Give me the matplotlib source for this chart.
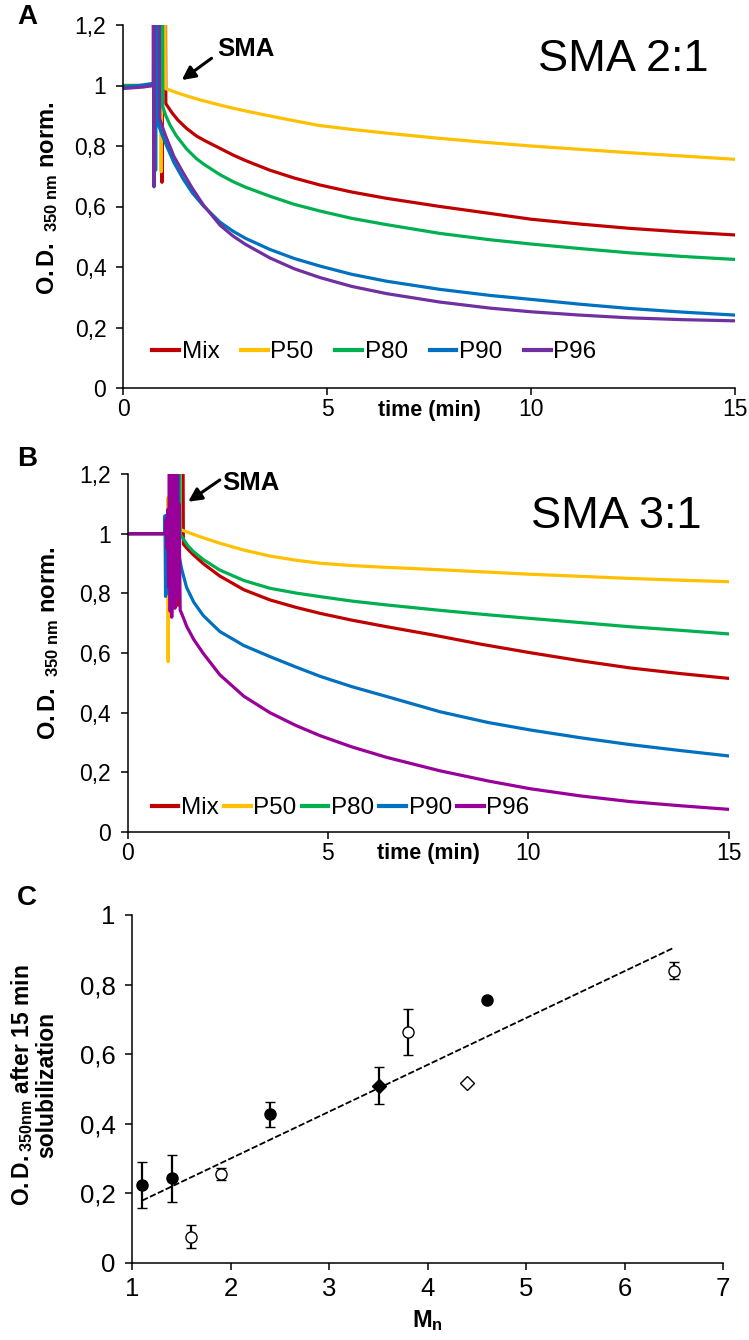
import numpy as np
import matplotlib
matplotlib.use('Agg')
import matplotlib.pyplot as plt

plt.rcParams['font.family'] = ['Liberation Sans', 'DejaVu Sans']
plt.rcParams['mathtext.fontset'] = 'custom'
plt.rcParams['mathtext.rm'] = 'Liberation Sans'
plt.rcParams['mathtext.bf'] = 'Liberation Sans:bold'
plt.rcParams['mathtext.it'] = 'Liberation Sans:italic'

# ---------------- data ----------------
series_names = ['Mix', 'P50', 'P80', 'P90', 'P96']

# Panel A (SMA 2:1)
a_mix_t = [0, 0.5, 0.93, 0.94, 0.955, 0.965, 1.04, 1.05, 1.2, 1.35, 1.56, 1.8, 2.0, 2.38, 2.7, 3.0, 3.6, 4.2, 4.83,
           5.6, 6.46, 7.77, 9.0, 10.0, 11.2, 12.4, 13.7, 15.0]
a_mix_y = [1.0, 1.0, 1.0, 1.3, 0.68, 1.3, 1.3, 0.94, 0.91, 0.885, 0.858, 0.833, 0.818, 0.792, 0.77, 0.752, 0.72, 0.694,
           0.671, 0.648, 0.627, 0.60, 0.577, 0.558, 0.542, 0.528, 0.516, 0.506]
a_p50_t = [0, 0.5, 0.92, 0.925, 0.935, 0.96, 1.03, 1.04, 1.3, 1.6, 1.9, 2.3, 2.6, 3.0, 3.5, 4.1, 4.8, 5.6, 6.5, 7.7,
           8.8, 10.0, 11.2, 12.4, 13.7, 15.0]
a_p50_y = [1.0, 1.0, 1.0, 1.3, 0.715, 1.3, 1.3, 0.99, 0.977, 0.964, 0.952, 0.938, 0.928, 0.916, 0.902, 0.886, 0.868,
           0.855, 0.842, 0.826, 0.813, 0.80, 0.789, 0.778, 0.767, 0.756]
a_p80_t = [0, 0.5, 0.88, 0.89, 0.97, 0.975, 1.05, 1.15, 1.3, 1.56, 1.8, 2.0, 2.38, 2.7, 3.0, 3.6, 4.2, 4.83, 5.6, 6.46,
           7.77, 9.0, 10.0, 11.2, 12.4, 13.7, 15.0]
a_p80_y = [1.0, 1.0, 1.0, 1.3, 1.3, 0.93, 0.90, 0.87, 0.835, 0.79, 0.758, 0.738, 0.705, 0.682, 0.664, 0.634, 0.607,
           0.585, 0.561, 0.54, 0.511, 0.49, 0.476, 0.461, 0.447, 0.435, 0.425]
a_p90_t = [0, 0.4, 0.78, 0.785, 0.80, 0.815, 0.86, 0.87, 0.95, 1.07, 1.25, 1.48, 1.7, 1.97, 2.38, 2.7, 3.0, 3.6, 4.2,
           4.83, 5.6, 6.46, 7.77, 9.0, 10.0, 11.2, 12.4, 13.7, 15.0]
a_p90_y = [0.995, 1.0, 1.008, 1.3, 0.72, 1.3, 1.3, 0.87, 0.84, 0.80, 0.745, 0.69, 0.645, 0.602, 0.548, 0.518, 0.495,
           0.458, 0.428, 0.403, 0.376, 0.353, 0.326, 0.306, 0.293, 0.277, 0.263, 0.251, 0.241]
a_p96_t = [0, 0.5, 0.74, 0.745, 0.76, 0.775, 0.89, 0.9, 1.0, 1.07, 1.25, 1.48, 1.7, 1.97, 2.38, 2.7, 3.0, 3.6, 4.2,
           4.83, 5.6, 6.46, 7.77, 9.0, 10.0, 11.2, 12.4, 13.7, 15.0]
a_p96_y = [0.99, 0.995, 1.0, 1.3, 0.665, 1.3, 1.3, 0.89, 0.85, 0.825, 0.765, 0.71, 0.66, 0.605, 0.538, 0.502, 0.475,
           0.43, 0.394, 0.365, 0.336, 0.312, 0.284, 0.264, 0.252, 0.241, 0.232, 0.226, 0.222]

# Panel B (SMA 3:1)
b_mix_t = [0, 1.18, 1.19, 1.2, 1.25, 1.30, 1.38, 1.39, 1.5, 1.64, 1.9, 2.3, 2.9, 3.55, 4.2, 4.8, 5.6, 6.47, 7.6, 8.8,
           10.05, 11.3, 12.54, 13.8, 15.0]
b_mix_y = [1.0, 1.0, 0.755, 1.0, 0.76, 1.3, 1.3, 0.965, 0.948, 0.929, 0.898, 0.858, 0.812, 0.778, 0.753, 0.733, 0.71,
           0.688, 0.661, 0.63, 0.601, 0.574, 0.55, 0.531, 0.515]
b_p50_t = [0, 1.0, 1.005, 1.01, 1.02, 1.04, 1.06, 1.30, 1.32, 1.35, 1.8, 2.3, 2.9, 3.55, 4.2, 4.8, 5.6, 6.47, 7.8, 9.0,
           10.05, 11.3, 12.54, 13.8, 15.0]
b_p50_y = [1.0, 1.0, 1.12, 0.571, 1.12, 1.0, 1.3, 1.3, 1.01, 1.012, 0.99, 0.968, 0.945, 0.925, 0.911, 0.901, 0.893,
           0.887, 0.879, 0.871, 0.864, 0.857, 0.85, 0.844, 0.839]
b_p80_t = [0, 1.15, 1.16, 1.30, 1.31, 1.35, 1.5, 1.64, 1.9, 2.3, 2.9, 3.55, 4.2, 4.8, 5.6, 6.47, 7.8, 9.0, 10.05, 11.3,
           12.54, 13.8, 15.0]
b_p80_y = [1.0, 1.0, 1.3, 1.3, 1.0, 0.99, 0.96, 0.94, 0.912, 0.878, 0.843, 0.817, 0.801, 0.789, 0.774, 0.761, 0.743,
           0.728, 0.716, 0.702, 0.688, 0.676, 0.664]
b_p90_t = [0, 0.92, 0.93, 0.945, 0.96, 0.975, 0.99, 1.05, 1.06, 1.10, 1.12, 1.20, 1.21, 1.26, 1.27, 1.29, 1.35, 1.47,
           1.65, 1.89, 2.3, 2.9, 3.55, 4.2, 4.8, 5.6, 6.47, 7.8, 9.0, 10.05, 11.3, 12.54, 13.8, 15.0]
b_p90_y = [1.0, 1.0, 1.06, 0.79, 1.06, 0.80, 1.0, 1.0, 1.09, 0.85, 1.0, 1.0, 1.3, 1.3, 1.0, 0.92, 0.88, 0.82, 0.77,
           0.725, 0.672, 0.625, 0.588, 0.553, 0.522, 0.487, 0.454, 0.403, 0.367, 0.342, 0.316, 0.293, 0.273, 0.255]
b_p96_t = [0, 0.95, 0.96, 0.98, 1.0, 1.02, 1.04, 1.06, 1.08, 1.10, 1.12, 1.14, 1.16, 1.18, 1.20, 1.22, 1.24, 1.26, 1.28,
           1.31, 1.4, 1.47, 1.65, 1.89, 2.3, 2.9, 3.55, 4.2, 4.8, 5.6, 6.47, 7.8, 9.0, 10.05, 11.3, 12.54, 13.8, 15.0]
b_p96_y = [1.0, 1.0, 1.05, 0.95, 1.08, 0.82, 1.3, 0.74, 1.3, 0.72, 1.3, 0.8, 1.3, 0.75, 1.3, 0.78, 1.3, 0.85, 1.1,
           0.744, 0.715, 0.69, 0.645, 0.598, 0.527, 0.455, 0.40, 0.357, 0.323, 0.285, 0.25, 0.205, 0.171, 0.145, 0.121,
           0.102, 0.088, 0.076]

colors_a = ['#C00000', '#FFC000', '#00B050', '#0070C0', '#7030A0']
colors_b = ['#C00000', '#FFC000', '#00B050', '#0070C0', '#990099']

time_ticks = [0, 5, 10, 15]
time_tick_labels = ['0', '5', '10', '15']
od_ticks = [0, 0.2, 0.4, 0.6, 0.8, 1.0, 1.2]
od_tick_labels = ['0', '0,2', '0,4', '0,6', '0,8', '1', '1,2']

# Panel C
mn_values = [1.1, 1.4, 1.6, 1.9, 2.4, 3.5, 3.8, 4.4, 4.6, 6.5]
od15_values = [0.224, 0.243, 0.076, 0.255, 0.427, 0.509, 0.664, 0.518, 0.757, 0.840]
od15_errors = [0.065, 0.068, 0.032, 0.017, 0.036, 0.053, 0.066, 0.0, 0.0, 0.024]
point_filled = [True, True, False, False, True, True, False, False, True, False]
point_shape = ['o', 'o', 'o', 'o', 'o', 'D', 'o', 'D', 'o', 'o']
c_y_ticks = [0, 0.2, 0.4, 0.6, 0.8, 1.0]
c_y_tick_labels = ['0', '0,2', '0,4', '0,6', '0,8', '1']
mn_ticks = [1, 2, 3, 4, 5, 6, 7]
mn_tick_labels = ['1', '2', '3', '4', '5', '6', '7']

# ---------------- figure ----------------
W, H = 749, 1340
fig = plt.figure(figsize=(W / 100, H / 100), dpi=100)


def px_axes(l, r, t, b):
    return fig.add_axes([l / W, 1 - b / H, (r - l) / W, (b - t) / H])


def style(ax, size):
    for s in ['top', 'right']:
        ax.spines[s].set_visible(False)
    for s in ['left', 'bottom']:
        ax.spines[s].set_linewidth(1.1)
    ax.tick_params(direction='out', length=5, width=1.1, labelsize=size, colors='k')


axA = px_axes(123, 735, 25, 388)
axB = px_axes(127.7, 728.5, 474, 832)
axC = px_axes(132.3, 723.3, 915, 1263)

ylabel_od = r'$\mathbf{O.D.\ }_{\mathbf{350\ nm}}\mathbf{\ norm.}$'

panels = [
    (axA, [(a_mix_t, a_mix_y), (a_p50_t, a_p50_y), (a_p80_t, a_p80_y), (a_p90_t, a_p90_y), (a_p96_t, a_p96_y)], colors_a),
    (axB, [(b_mix_t, b_mix_y), (b_p50_t, b_p50_y), (b_p80_t, b_p80_y), (b_p90_t, b_p90_y), (b_p96_t, b_p96_y)], colors_b),
]
for ax, data, cols in panels:
    for name, (t, y), c in zip(series_names, data, cols):
        ax.plot(t, y, color=c, lw=2.3, label=name)
    ax.set_xlim(0, 15)
    ax.set_ylim(0, 1.2)
    ax.set_xticks(time_ticks)
    ax.set_xticklabels(time_tick_labels)
    ax.set_yticks(od_ticks)
    ax.set_yticklabels(od_tick_labels)
    style(ax, 16.5)
    ax.tick_params(axis='y', pad=7)
    ax.tick_params(axis='x', pad=2)
    ax.set_xlabel('time (min)', fontsize=15.5, fontweight='bold', va='center')
    ax.set_ylabel(ylabel_od, fontsize=17, va='center')

axA.xaxis.set_label_coords(0.5, -0.061)
axB.xaxis.set_label_coords(0.5, -0.059)
axA.yaxis.set_label_coords(-0.1225, 0.523)
axB.yaxis.set_label_coords(-0.131, 0.527)

legA = axA.legend(loc='center left', bbox_to_anchor=(0.048, 0.099), ncol=5, frameon=False,
                  fontsize=17.5, handlelength=1.1, handletextpad=0.1, columnspacing=0.9,
                  borderpad=0, borderaxespad=0)
legB = axB.legend(loc='center left', bbox_to_anchor=(0.04, 0.067), ncol=5, frameon=False,
                  fontsize=17.5, handlelength=1.1, handletextpad=0.1, columnspacing=0.22,
                  borderpad=0, borderaxespad=0)
for leg in (legA, legB):
    for h in leg.get_lines():
        h.set_linewidth(3)

axA.text(0.817, 0.904, 'SMA 2:1', transform=axA.transAxes, ha='center', va='center', fontsize=32.5)
axB.text(0.814, 0.880, 'SMA 3:1', transform=axB.transAxes, ha='center', va='center', fontsize=32.5)

arrow_kw = dict(arrowstyle='-|>', color='k', lw=2.2, mutation_scale=20, shrinkA=0, shrinkB=0)
axA.annotate('', xy=(1.44, 1.018), xytext=(2.17, 1.09), arrowprops=arrow_kw)
axA.text(2.31, 1.12, 'SMA', fontsize=18.5, fontweight='bold', ha='left', va='center')
axB.annotate('', xy=(1.51, 1.107), xytext=(2.30, 1.18), arrowprops=arrow_kw, annotation_clip=False)
axB.text(2.35, 1.169, 'SMA', fontsize=18.5, fontweight='bold', ha='left', va='center')

# Panel C
fit = np.polyfit(mn_values, od15_values, 1)
fx = np.array([min(mn_values), max(mn_values)])
axC.plot(fx, np.polyval(fit, fx), color='k', lw=1.3, linestyle=(0, (3.5, 1.3)), zorder=1)
for x, y, e, f, m in zip(mn_values, od15_values, od15_errors, point_filled, point_shape):
    ms = 8 if m == 'o' else 7
    axC.errorbar([x], [y], yerr=[e] if e > 0 else None, fmt=m, ms=ms,
                 mfc='k' if f else 'white', mec='k', mew=1.0,
                 ecolor='k', elinewidth=1.6, capsize=3.5, capthick=1.6, zorder=3)
axC.set_xlim(1, 7)
axC.set_ylim(0, 1)
axC.set_xticks(mn_ticks)
axC.set_xticklabels(mn_tick_labels)
axC.set_yticks(c_y_ticks)
axC.set_yticklabels(c_y_tick_labels)
style(axC, 18.5)
axC.tick_params(axis='y', pad=7)
axC.tick_params(axis='x', pad=5)
axC.set_xlabel(r'$\mathbf{M}_{\mathbf{n}}$', fontsize=17, va='center')
axC.xaxis.set_label_coords(0.5, -0.164)
axC.set_ylabel(r'$\mathbf{O.D.}_{\mathbf{350nm}}\mathbf{\ after\ 15\ min}$' + '\n' + 'solubilization',
               fontsize=16.5, fontweight='bold', va='center', linespacing=1.0)
axC.yaxis.set_label_coords(-0.167, 0.511)

for letter, yp in [('A', 17), ('B', 459), ('C', 898)]:
    fig.text(27 / W, 1 - yp / H, letter, fontsize=20, fontweight='bold', ha='center', va='center')

fig.savefig('out.png', dpi=100)
